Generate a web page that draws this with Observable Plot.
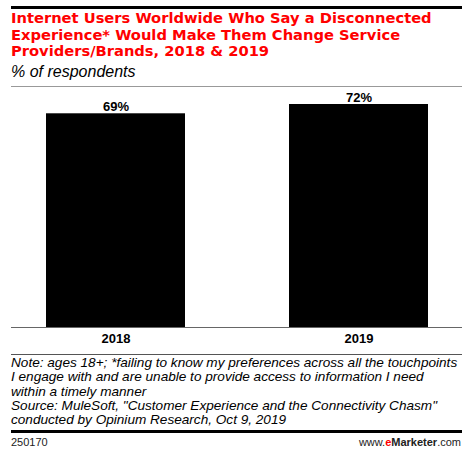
<!DOCTYPE html>
<html>
<head>
<meta charset="utf-8">
<script src="https://cdn.jsdelivr.net/npm/d3@7"></script>
<script src="https://cdn.jsdelivr.net/npm/@observablehq/plot@0.6"></script>
<style>
  html, body { margin: 0; padding: 0; background: #fff; }
  body { width: 468px; height: 453px; position: relative; overflow: hidden; font-family: "Liberation Sans", Arial, sans-serif; }
  .abs { position: absolute; }
  #topline { top: 6px; left: 11px; width: 451px; height: 2.5px; background: #000; }
  #title { top: 10px; left: 11px; width: 457px; white-space: nowrap; font-family: "DejaVu Sans", Verdana, sans-serif; font-weight: bold; font-size: 14.7px; line-height: 16.5px; color: #ff0000; }
  #subtitle { top: 63px; left: 11px; font-style: italic; font-size: 16px; line-height: 18px; color: #000; }
  #grayline { top: 86px; left: 11px; width: 451px; height: 1px; background: #999; }
  #chart { top: 87px; left: 0px; }
  #sepline { top: 354px; left: 11px; width: 451px; height: 1px; background: #555; }
  #note { top: 356px; left: 11px; width: 457px; white-space: nowrap; font-style: italic; font-size: 13.6px; line-height: 14.3px; color: #000; }
  #botline { top: 430px; left: 11px; width: 451px; height: 3px; background: #000; }
  #id { top: 436px; left: 11px; font-size: 11px; color: #222; }
  #brand { top: 436px; right: 7px; font-size: 11px; color: #222; }
  #brand .e { color: #ff0000; font-weight: bold; }
  #brand .m { font-weight: bold; }
</style>
</head>
<body>
<div id="topline" class="abs"></div>
<div id="title" class="abs">Internet Users Worldwide Who Say a Disconnected<br>Experience* Would Make Them Change Service<br>Providers/Brands, 2018 &amp; 2019</div>
<div id="subtitle" class="abs">% of respondents</div>
<div id="grayline" class="abs"></div>
<div id="chart" class="abs"></div>
<div id="sepline" class="abs"></div>
<div id="note" class="abs">Note: ages 18+; *failing to know my preferences across all the touchpoints<br>I engage with and are unable to provide access to information I need<br>within a timely manner<br>Source: MuleSoft, "Customer Experience and the Connectivity Chasm"<br>conducted by Opinium Research, Oct 9, 2019</div>
<div id="botline" class="abs"></div>
<div id="id" class="abs">250170</div>
<div id="brand" class="abs">www.<span class="e">e</span><span class="m">Marketer</span>.com</div>
<script>
const years = ["2018", "2019"];
const values = [69, 72];
const labels = ["69%", "72%"];

const data = years.map((y, i) => ({year: y, value: values[i], label: labels[i]}));

const chart = Plot.plot({
  width: 468,
  height: 267,
  marginLeft: 11,
  marginRight: 6,
  marginTop: 17,
  marginBottom: 27,
  style: {fontFamily: "Liberation Sans, Arial, sans-serif", background: "transparent"},
  x: {domain: years, paddingInner: 0.428, paddingOuter: 0.14, label: null},
  y: {domain: [0, 72], axis: null},
  marks: [
    Plot.barY(data, {x: "year", y: "value", fill: "#000"}),
    Plot.ruleY([0], {stroke: "#666", strokeWidth: 1}),
    Plot.text(data, {x: "year", y: "value", text: "label", lineAnchor: "bottom", dy: -3, fontWeight: "bold", fontSize: 13, fill: "#000"}),
    Plot.axisX({tickSize: 0, tickPadding: 6, fontSize: 13, fontWeight: "bold", fill: "#000", label: null})
  ]
});
document.getElementById("chart").appendChild(chart);
</script>
</body>
</html>
